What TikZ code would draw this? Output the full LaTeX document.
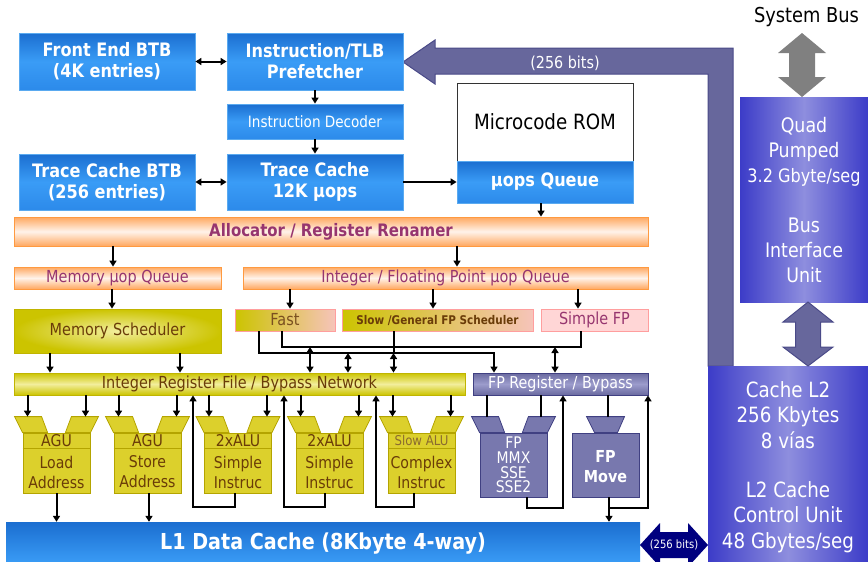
\documentclass[tikz,border=0pt]{standalone}
\usepackage{fontspec}
\setmainfont{DejaVu Sans}[FakeStretch=0.87]
\usetikzlibrary{arrows.meta,calc}
\definecolor{bluetop}{HTML}{1B6ED0}
\definecolor{bluemid}{HTML}{3A9CF6}
\definecolor{bluebot}{HTML}{2C8AEA}
\definecolor{blueedge}{HTML}{5AAAF0}
\definecolor{orng}{HTML}{FFA860}
\definecolor{orngmid}{HTML}{FFF3EA}
\definecolor{orngedge}{HTML}{FF9A40}
\definecolor{magtxt}{HTML}{96356F}
\definecolor{olive}{HTML}{CCC400}
\definecolor{olivelt}{HTML}{F2EE9C}
\definecolor{oliveedge}{HTML}{C0B400}
\definecolor{browntxt}{HTML}{6A3C08}
\definecolor{fasttxt}{HTML}{7A5020}
\definecolor{slowalu}{HTML}{8A6A30}
\definecolor{pinkbg}{HTML}{FFD6D6}
\definecolor{pinkedge}{HTML}{FF9E9E}
\definecolor{peach}{HTML}{F6C4BA}
\definecolor{slate}{HTML}{6A6AA0}
\definecolor{slatelt}{HTML}{9C9CCC}
\definecolor{slateedge}{HTML}{404082}
\definecolor{unitfill}{HTML}{DCD02C}
\definecolor{unitedge}{HTML}{B4A400}
\definecolor{fpunit}{HTML}{7878AE}
\definecolor{busside}{HTML}{3C3CC8}
\definecolor{busmid}{HTML}{8E8EDE}
\definecolor{greyarr}{HTML}{808080}
\definecolor{navyarr}{HTML}{00007F}
\definecolor{bigarr}{HTML}{67679C}
\definecolor{bigarredge}{HTML}{4A4A88}
\newcommand\myfs[2]{\fontsize{#1}{#2}\selectfont}
\begin{document}
\begin{tikzpicture}[x=1pt,y=-1pt,
  bluebox/.style={draw=blueedge, line width=0.8pt, top color=bluetop, bottom color=bluebot, middle color=bluemid, text=white, font=\bfseries\myfs{18.5}{21}, align=center, inner sep=0pt},
  orngbox/.style={draw=orngedge, line width=0.8pt, top color=orng, bottom color=orng, middle color=orngmid, text=magtxt, font=\myfs{16.6}{19}, inner sep=0pt},
  olivebox/.style={draw=oliveedge, line width=0.8pt, inner color=olivelt, outer color=olive, text=browntxt, font=\myfs{16.6}{19}, inner sep=0pt},
  irfbar/.style={draw=oliveedge, line width=0.8pt, top color=olive, bottom color=olive, middle color=olivelt, text=browntxt, font=\myfs{16.6}{19}, inner sep=0pt},
  sched/.style={draw=pinkedge, line width=0.8pt, left color=olive, right color=peach, inner sep=0pt},
  sfpbox/.style={draw=pinkedge, line width=0.8pt, fill=pinkbg, text=magtxt, font=\myfs{16.6}{19}, inner sep=0pt},
  fpreg/.style={draw=slateedge, line width=0.8pt, top color=slate, bottom color=slate, middle color=slatelt, text=white, font=\myfs{16.4}{19}, inner sep=0pt},
  unit/.style={draw=unitedge, fill=unitfill, line width=0.8pt, minimum width=67pt, minimum height=60pt, inner sep=0pt},
  ufun/.style={draw=unitedge, fill=unitfill, line width=0.8pt},
  udiv/.style={draw=unitedge, line width=0.8pt},
  utxt/.style={text=browntxt, font=\myfs{16.2}{20}, align=center, inner sep=0pt},
  fpu/.style={draw=slateedge, fill=fpunit, line width=0.8pt, minimum width=67pt, minimum height=64pt, inner sep=0pt},
  fpfun/.style={draw=slateedge, fill=fpunit, line width=0.8pt},
  busbox/.style={left color=busside, right color=busside, middle color=busmid, inner sep=0pt},
  bustxt/.style={text=white, font=\myfs{20}{25}, align=center, inner sep=0pt},
  arr/.style={line width=2pt, -{Triangle[length=6pt,width=7pt]}},
  dbl/.style={line width=2pt, {Triangle[length=6pt,width=7pt]}-{Triangle[length=6pt,width=7pt]}},
  ln/.style={line width=2pt}]
\useasboundingbox (0,0) rectangle (868,562);

% ---------- big slate arrow (256 bits) ----------
\draw[fill=bigarr, draw=bigarredge, line width=1pt] (403,62) -- (435,40) -- (435,48) -- (733,48) -- (733,366) -- (708,366) -- (708,74) -- (435,74) -- (435,84) -- cycle;
\node[text=white, font=\myfs{16.5}{19}, inner sep=0pt] (bits1) at (565,63) {(256 bits)};

% ---------- front end ----------
\node[bluebox, minimum width=176pt, minimum height=57pt] (feb) at (107,61.5) {Front End BTB\\(4K entries)};
\node[bluebox, minimum width=176pt, minimum height=57pt] (itlb) at (315,61.5) {Instruction/TLB\\Prefetcher};
\node[bluebox, minimum width=176pt, minimum height=35pt, font=\myfs{15.6}{18}] (idec) at (315,121.5) {Instruction Decoder};
\node[bluebox, minimum width=176pt, minimum height=56pt] (tcbtb) at (107,182) {Trace Cache BTB\\(256 entries)};
\node[bluebox, minimum width=176pt, minimum height=56pt] (tc) at (315,182) {Trace Cache\\12K µops};
\node[draw=black!80, line width=0.8pt, fill=white, minimum width=176pt, minimum height=78pt, inner sep=0pt, font=\myfs{21}{24}] (mrom) at (545,122) {Microcode ROM};
\node[bluebox, minimum width=176pt, minimum height=42pt] (uq) at (545,182) {µops Queue};

\draw[dbl] (feb.east) -- (itlb.west);
\draw[dbl] (tcbtb.east) -- (tc.west);
\draw[arr] (itlb.south) -- (idec.north);
\draw[arr] (idec.south) -- (tc.north);
\draw[arr] (tc.east) -- (uq.west);

% ---------- allocator and queues ----------
\node[orngbox, minimum width=634pt, minimum height=29pt, font=\bfseries\myfs{17.2}{20}] (alloc) at (331,231.5) {Allocator / Register Renamer};
\node[orngbox, minimum width=207pt, minimum height=22pt] (mq) at (117.5,278) {Memory µop Queue};
\node[orngbox, minimum width=405pt, minimum height=22pt] (ifq) at (445.5,278) {Integer / Floating Point µop Queue};
\node[olivebox, minimum width=207pt, minimum height=44pt] (ms) at (117.5,331) {Memory Scheduler};
\node[sched, minimum width=100pt, minimum height=22pt, text=fasttxt, font=\myfs{16.6}{19}] (fast) at (285,320) {Fast};
\node[sched, minimum width=191pt, minimum height=22pt, text=browntxt, font=\bfseries\myfs{12}{14}] (slow) at (437.5,320) {Slow /General FP Scheduler};
\node[sfpbox, minimum width=107pt, minimum height=22pt] (sfp) at (594.5,320) {Simple FP};
\node[irfbar, minimum width=451pt, minimum height=22pt] (irf) at (239.5,384) {Integer Register File / Bypass Network};
\node[fpreg, minimum width=175pt, minimum height=22pt] (fpr) at (560.5,384) {FP Register / Bypass};

\draw[arr] ([xshift=-4pt]uq.south) -- ([xshift=-4pt]uq.south |- alloc.north);
\draw[arr] ([xshift=-4.5pt]mq.north |- alloc.south) -- ([xshift=-4.5pt]mq.north);
\draw[arr] ([xshift=11.5pt]ifq.north |- alloc.south) -- ([xshift=11.5pt]ifq.north);
\draw[arr] ([xshift=-5.5pt]mq.south) -- ([xshift=-5.5pt]ms.north);
\draw[arr] ([xshift=5pt]fast.north |- ifq.south) -- ([xshift=5pt]fast.north);
\draw[arr] ([xshift=-4.5pt]slow.north |- ifq.south) -- ([xshift=-4.5pt]slow.north);
\draw[arr] ([xshift=-16.5pt]sfp.north |- ifq.south) -- ([xshift=-16.5pt]sfp.north);
\draw[arr] ([xshift=-67.5pt]ms.south) -- ([xshift=-67.5pt]ms.south |- irf.north);
\draw[arr] ([xshift=62.5pt]ms.south) -- ([xshift=62.5pt]ms.south |- irf.north);

% scheduler buses
\coordinate (busA) at (0,347);
\coordinate (busB) at (0,353);
\draw[ln] ([xshift=-3pt]fast.south) -- ([xshift=-3pt]fast.south |- busA) -| ([xshift=-13.5pt]sfp.south);
\draw[arr] ([xshift=-26pt]fast.south) -- ([xshift=-26pt]fast.south |- busB) -| ([xshift=-66.5pt]fpr.north);
\draw[ln] ([xshift=-43.5pt]slow.south) -- ([xshift=-43.5pt]slow.south |- busB);
\draw[dbl] ([xshift=70.5pt]irf.north |- busA) -- ([xshift=70.5pt]irf.north);
\draw[dbl] ([xshift=108.5pt]irf.north |- busB) -- ([xshift=108.5pt]irf.north);
\draw[dbl] ([xshift=154pt]irf.north |- busB) -- ([xshift=154pt]irf.north);
\draw[dbl] ([xshift=-5.5pt]fpr.north |- busA) -- ([xshift=-5.5pt]fpr.north);

% ---------- execution units ----------
\node[unit] (agul) at (56.5,463) {};
\node[unit] (agus) at (147.5,463) {};
\node[unit] (alu1) at (238,463) {};
\node[unit] (alu2) at (329.5,463) {};
\node[unit] (salu) at (421.5,463) {};
\foreach \u in {agul,agus,alu1,alu2,salu}{
  \draw[ufun] ($(\u.north west)+(-8,-16)$) -- ($(\u.north west)+(19,-16)$) -- ($(\u.north west)+(25,0)$) -- (\u.north west) -- cycle;
  \draw[ufun] ($(\u.north east)+(-19,-16)$) -- ($(\u.north east)+(8,-16)$) -- (\u.north east) -- ($(\u.north east)+(-25,0)$) -- cycle;
  \draw[udiv] ([yshift=-16pt]\u.north west) -- ([yshift=-16pt]\u.north east);
  \draw[arr] ([xshift=-29pt]\u.north |- irf.south) -- ([xshift=-29pt,yshift=16pt]\u.north);
  \draw[arr] ([xshift=29pt]\u.north |- irf.south) -- ([xshift=29pt,yshift=16pt]\u.north);
}
\node[utxt] (agulh) at ([yshift=-8pt]agul.north) {AGU};
\node[utxt] (agulb) at ([yshift=-9pt]agul.center) {Load\\Address};
\node[utxt] (agush) at ([yshift=-8pt]agus.north) {AGU};
\node[utxt] (agusb) at ([yshift=-9pt]agus.center) {Store\\Address};
\node[utxt] (alu1h) at ([yshift=-8pt]alu1.north) {2xALU};
\node[utxt] (alu1b) at ([yshift=-9pt]alu1.center) {Simple\\Instruc};
\node[utxt] (alu2h) at ([yshift=-8pt]alu2.north) {2xALU};
\node[utxt] (alu2b) at ([yshift=-9pt]alu2.center) {Simple\\Instruc};
\node[utxt, text=slowalu, font=\myfs{13.5}{16}] (saluh) at ([yshift=-8pt]salu.north) {Slow ALU};
\node[utxt] (salub) at ([yshift=-9pt]salu.center) {Complex\\Instruc};

\draw[arr] ([xshift=-3pt]alu1.south) -- ++(0,14) -| ([xshift=-45pt]alu1.south |- irf.south);
\draw[arr] ([xshift=-5pt]alu2.south) -- ++(0,14) -| ([xshift=-45.5pt]alu2.south |- irf.south);
\draw[arr] ([xshift=-8pt]salu.south) -- ++(0,14) -| ([xshift=-45.5pt]salu.south |- irf.south);

% FP units
\node[fpu] (fpmmx) at (513.5,465) {};
\node[fpu] (fpmove) at (605.5,465) {};
\draw[fpfun] ($(fpmmx.north west)+(-8,-16)$) -- ($(fpmmx.north west)+(19,-16)$) -- ($(fpmmx.north west)+(25,0)$) -- (fpmmx.north west) -- cycle;
\draw[fpfun] ($(fpmmx.north east)+(-19,-16)$) -- ($(fpmmx.north east)+(8,-16)$) -- (fpmmx.north east) -- ($(fpmmx.north east)+(-25,0)$) -- cycle;
\draw[fpfun] ($(fpmove.north)+(-19,-16)$) -- ($(fpmove.north)+(19,-16)$) -- ($(fpmove.north)+(12,0)$) -- ($(fpmove.north)+(-11,0)$) -- cycle;
\node[text=white, font=\myfs{16}{14.6}, align=center, inner sep=0pt] (fpmmxt) at (fpmmx.center) {FP\\MMX\\SSE\\SSE2};
\node[text=white, font=\bfseries\myfs{16.5}{20}, align=center, inner sep=0pt] (fpmovet) at ([yshift=-2pt]fpmove.center) {FP\\Move};

\draw[ln] ([xshift=-27pt]fpmmx.north |- fpr.south) -- ([xshift=-27pt,yshift=16pt]fpmmx.north);
\draw[ln] ([xshift=27pt]fpmmx.north |- fpr.south) -- ([xshift=27pt,yshift=16pt]fpmmx.north);
\draw[ln] ([xshift=2.5pt]fpmove.north |- fpr.south) -- ([xshift=2.5pt,yshift=16pt]fpmove.north);
\draw[arr] ([xshift=13.5pt]fpmmx.south) -- ++(0,11) -| ([xshift=49.5pt]fpmmx.south |- fpr.south);
\draw[arr] ([xshift=3.5pt]fpmove.south) -- ++(0,11) -| ([xshift=42.5pt]fpmove.south |- fpr.south);

% ---------- L1 ----------
\node[draw=none, top color=bluetop, bottom color=bluemid, minimum width=634pt, minimum height=41pt, inner sep=0pt] (l1) at (323,542.5) {};
\node[text=white, font=\bfseries\myfs{22}{24}, inner sep=0pt] (l1t) at (323,544) {L1 Data Cache (8Kbyte 4-way)};
\draw[arr] (agul.south) -- (agul.south |- l1.north);
\draw[arr] ([xshift=1.5pt]agus.south) -- ([xshift=1.5pt]agus.south |- l1.north);
\draw[arr] ([xshift=3.5pt]fpmove.south) -- ([xshift=3.5pt]fpmove.south |- l1.north);

% ---------- bus interface & L2 ----------
\node[busbox, minimum width=128pt, minimum height=205pt] (biu) at (804,199.5) {};
\node[busbox, minimum width=160pt, minimum height=197pt] (l2) at (788,464.5) {};
\node[bustxt] (biut1) at ([yshift=-55pt]biu.north) {Quad\\Pumped\\{\myfs{18.5}{25}3.2 Gbyte/seg}};
\node[bustxt] (biut2) at ([yshift=-154pt]biu.north) {Bus\\Interface\\Unit};
\node[bustxt, font=\myfs{21}{25.5}] (l2t1) at ([yshift=-49pt]l2.north) {Cache L2\\256 Kbytes\\8 vías};
\node[bustxt, font=\myfs{21}{25.5}] (l2t2) at ([yshift=-151pt]l2.north) {L2 Cache\\Control Unit\\48 Gbytes/seg};
\node[font=\myfs{20.5}{24}, inner sep=0pt] (sysbus) at (806.5,17) {System Bus};

% system bus arrow
\fill[greyarr] (802,33) -- (826,53) -- (815,53) -- (815,77) -- (826,77) -- (802,97) -- (778,77) -- (789,77) -- (789,53) -- (778,53) -- cycle;
% BIU <-> L2
\draw[fill=bigarr, draw=bigarredge, line width=1pt] (808,302) -- (833,322) -- (820.5,322) -- (820.5,347) -- (833,347) -- (808,366) -- (783,347) -- (795.5,347) -- (795.5,322) -- (783,322) -- cycle;
% L1 <-> L2
\fill[navyarr] (640,545) -- (660,523) -- (660,532) -- (688,532) -- (688,523) -- (708,545) -- (688,567) -- (688,558) -- (660,558) -- (660,567) -- cycle;
\node[text=white, font=\myfs{11.5}{13}, inner sep=0pt] (bits2) at (674,545) {(256 bits)};
\end{tikzpicture}
\end{document}
